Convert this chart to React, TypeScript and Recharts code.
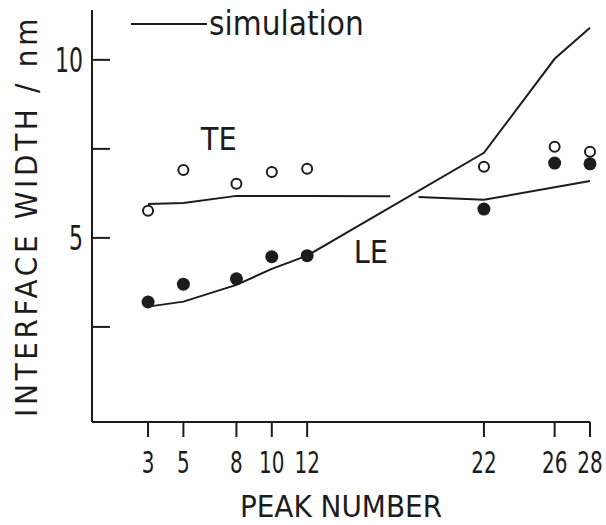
import React from "react";
import {
  ComposedChart,
  Line,
  Scatter,
  XAxis,
  YAxis,
  Legend,
  ReferenceDot,
} from "recharts";

const INK = "#1c1c1c";
const FONT = "'DejaVu Sans Condensed', 'DejaVu Sans', sans-serif";

// measured interface widths per peak
const peakNumbers = [3, 5, 8, 10, 12, 22, 26, 28];
const teMeasured = [5.76, 6.91, 6.52, 6.85, 6.94, 7.0, 7.56, 7.42];
const leMeasured = [3.2, 3.7, 3.85, 4.47, 4.5, 5.81, 7.1, 7.08];

// simulation curves (TE is broken where LE crosses it)
const teSimPeaks = [3, 5, 8, 12, 16.7, 17.5, 18.3, 22, 28];
const teSimWidth = [5.95, 5.98, 6.18, 6.18, 6.17, null, 6.15, 6.07, 6.6];
const leSimPeaks = [3, 5, 8, 10, 12, 22, 26, 28];
const leSimWidth = [3.07, 3.21, 3.68, 4.13, 4.5, 7.39, 10.03, 10.9];

const yTicks = [2.5, 5, 7.5, 10];
const yTickLabels: Record<number, string> = { 5: "5", 10: "10" };

const toPoints = (xs: number[], ys: (number | null)[]) =>
  xs.map((x, i) => ({ x, y: ys[i] }));

const teData = toPoints(peakNumbers, teMeasured);
const leData = toPoints(peakNumbers, leMeasured);
const teSim = toPoints(teSimPeaks, teSimWidth);
const leSim = toPoints(leSimPeaks, leSimWidth);

function XTick({ x, y, payload }: any) {
  return (
    <g>
      <line x1={x} x2={x} y1={y} y2={y + 15} stroke={INK} strokeWidth={2} />
      <text
        transform={`translate(${x} ${y + 51}) scale(0.74 1)`}
        textAnchor="middle"
        fontFamily={FONT}
        fontSize={30}
        fill={INK}
      >
        {payload.value}
      </text>
    </g>
  );
}

function YTick({ x, y, payload }: any) {
  const label = yTickLabels[payload.value];
  return (
    <g>
      <line x1={x} x2={x + 18} y1={y} y2={y} stroke={INK} strokeWidth={2} />
      {label && (
        <text
          transform={`translate(${x - 9} ${y + 12}) scale(0.72 1)`}
          textAnchor="end"
          fontFamily={FONT}
          fontSize={34}
          fill={INK}
        >
          {label}
        </text>
      )}
    </g>
  );
}

function SimLegend({ payload }: any) {
  const item = (payload || []).find((p: any) => p.value === "simulation");
  if (!item) return null;
  return (
    <svg width={260} height={46}>
      <line x1={3} x2={79} y1={24} y2={24} stroke={INK} strokeWidth={2} />
      <text x={81} y={35} fontFamily={FONT} fontSize={33} fill={INK}>
        {item.value}
      </text>
    </svg>
  );
}

export default function App() {
  return (
    <div style={{ position: "absolute", left: 0, top: 0, background: "#fff" }}>
      <ComposedChart
        width={606}
        height={525}
        margin={{ top: 10, right: 16, bottom: 43, left: 32 }}
      >
        <XAxis
          type="number"
          dataKey="x"
          domain={[-0.17, 28]}
          ticks={peakNumbers}
          interval={0}
          axisLine={{ stroke: INK, strokeWidth: 2 }}
          tickLine={false}
          tickSize={0}
          tickMargin={0}
          tick={<XTick />}
          height={60}
          label={{
            content: ({ viewBox }: any) => (
              <text
                x={viewBox.x + viewBox.width / 2}
                y={viewBox.y + 95}
                textAnchor="middle"
                fontFamily={FONT}
                fontSize={31}
                fill={INK}
              >
                PEAK NUMBER
              </text>
            ),
          }}
        />
        <YAxis
          type="number"
          dataKey="y"
          domain={[-0.17, 11.4]}
          ticks={yTicks}
          interval={0}
          axisLine={{ stroke: INK, strokeWidth: 2 }}
          tickLine={false}
          tickSize={0}
          tickMargin={0}
          tick={<YTick />}
          width={60}
          label={{
            content: ({ viewBox }: any) => (
              <text
                transform={`translate(${viewBox.x + 5} ${
                  viewBox.y + viewBox.height / 2
                }) rotate(-90)`}
                textAnchor="middle"
                fontFamily={FONT}
                fontSize={31}
                letterSpacing={3.7}
                fill={INK}
              >
                INTERFACE WIDTH / nm
              </text>
            ),
          }}
        />
        <Legend
          layout="horizontal"
          verticalAlign="middle"
          align="center"
          wrapperStyle={{ top: 0, left: 128, width: "auto" }}
          content={<SimLegend />}
        />
        <Line
          data={teSim}
          dataKey="y"
          stroke={INK}
          strokeWidth={2}
          dot={false}
          legendType="none"
          isAnimationActive={false}
        />
        <Line
          data={leSim}
          dataKey="y"
          name="simulation"
          stroke={INK}
          strokeWidth={2}
          dot={false}
          isAnimationActive={false}
        />
        <Scatter
          data={teData}
          dataKey="y"
          legendType="none"
          shape={(p: any) => (
            <circle cx={p.cx} cy={p.cy} r={5} fill="#fff" stroke={INK} strokeWidth={2} />
          )}
          isAnimationActive={false}
        />
        <Scatter
          data={leData}
          dataKey="y"
          legendType="none"
          shape={(p: any) => <circle cx={p.cx} cy={p.cy} r={6.5} fill={INK} />}
          isAnimationActive={false}
        />
        <ReferenceDot
          x={7}
          y={7.8}
          r={1}
          fill="none"
          stroke="none"
          label={{ value: "TE", position: "center", fontSize: 32, fontFamily: FONT, fill: INK }}
        />
        <ReferenceDot
          x={15.6}
          y={4.62}
          r={1}
          fill="none"
          stroke="none"
          label={{ value: "LE", position: "center", fontSize: 32, fontFamily: FONT, fill: INK }}
        />
      </ComposedChart>
    </div>
  );
}
